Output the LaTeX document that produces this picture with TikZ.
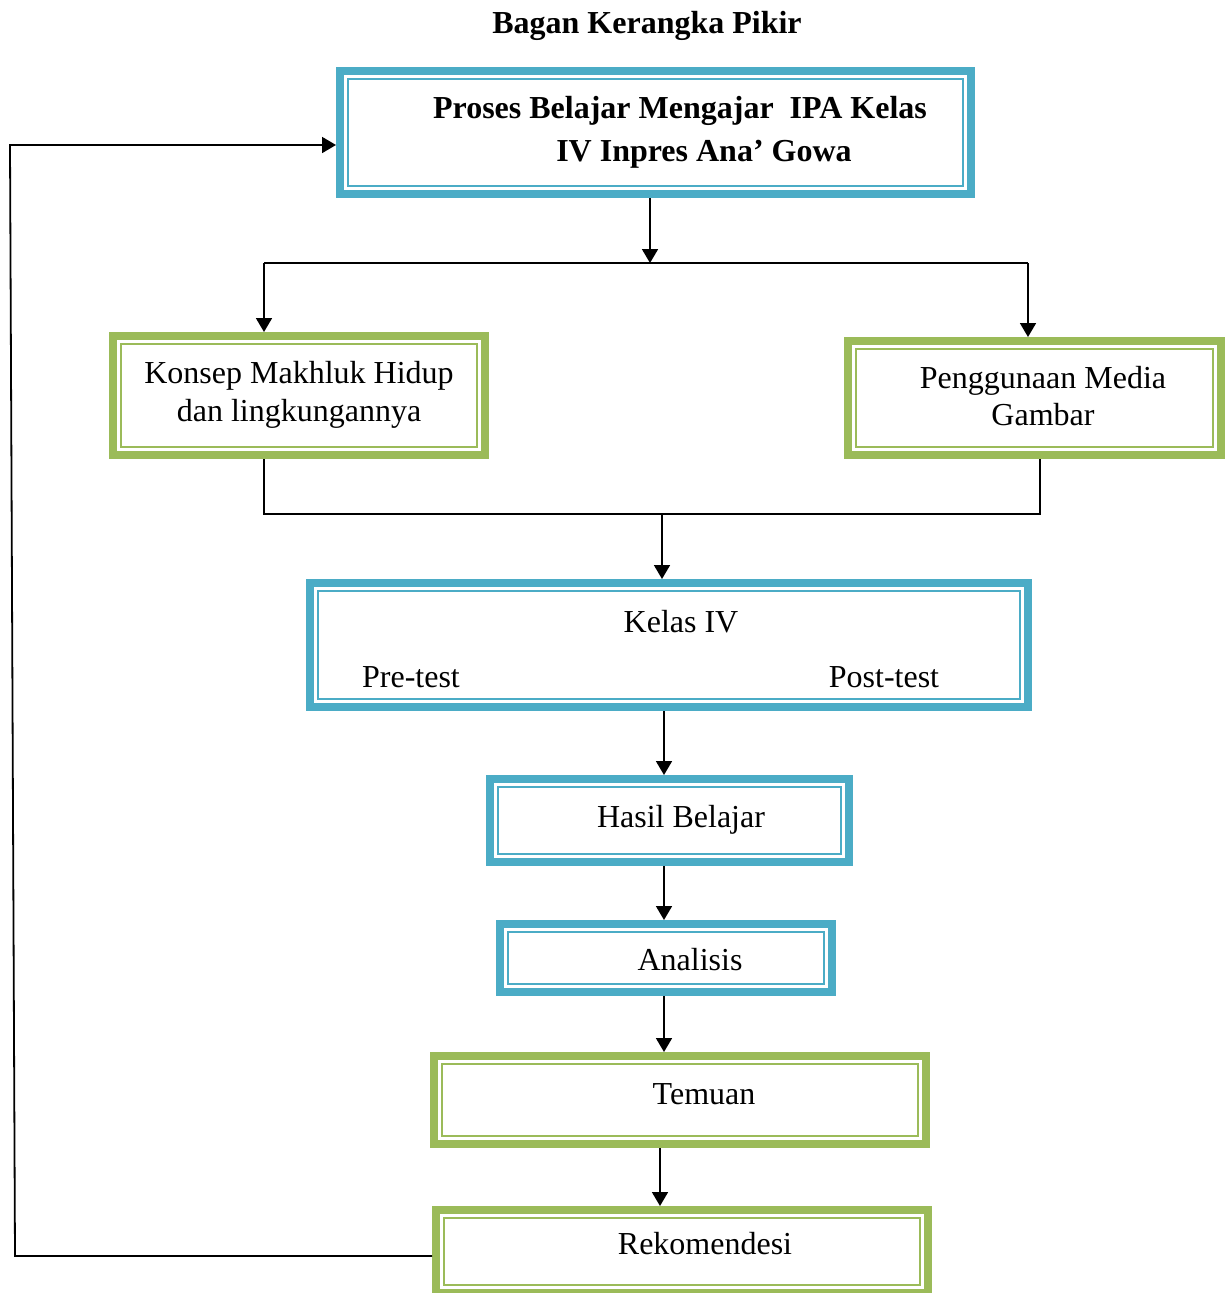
\documentclass[tikz,border=0pt]{standalone}
\usepackage{fontspec}
\setmainfont{Liberation Serif}
\usetikzlibrary{arrows.meta}
\definecolor{bbl}{HTML}{4BACC6}
\definecolor{ggr}{HTML}{9BBB59}
\tikzset{
  framebox/.style={draw=#1, line width=8pt, inner sep=0pt, fill=white},
  innerframe/.style={draw=#1, line width=2pt},
  lbl/.style={font=\fontsize{32}{38}\selectfont, inner sep=0pt, anchor=base},
  blbl/.style={lbl, font=\fontsize{32}{38}\selectfont\bfseries},
  conn/.style={line width=1.8pt, -{Triangle[length=14pt,width=16pt]}},
  plain/.style={line width=1.8pt},
}
\begin{document}
\begin{tikzpicture}[x=1pt,y=-1pt]
\useasboundingbox (0,0) rectangle (1225,1293);
\node[blbl] (title) at (647,33) {Bagan Kerangka Pikir};

\node[framebox=bbl, minimum width=631pt, minimum height=123pt] (top) at (655.5,132.5) {};
\node[framebox=ggr, minimum width=372pt, minimum height=119pt] (konsep) at (299,395.5) {};
\node[framebox=ggr, minimum width=373pt, minimum height=114pt] (media) at (1034.5,398) {};
\node[framebox=bbl, minimum width=718pt, minimum height=124pt] (kelas) at (669,645) {};
\node[framebox=bbl, minimum width=359pt, minimum height=83pt] (hasil) at (669.5,820.5) {};
\node[framebox=bbl, minimum width=332pt, minimum height=68pt] (analisis) at (666,958) {};
\node[framebox=ggr, minimum width=492pt, minimum height=88pt] (temuan) at (680,1100) {};
\node[framebox=ggr, minimum width=492pt, minimum height=83pt] (rekom) at (682,1251.5) {};

\foreach \n/\c in {top/bbl, konsep/ggr, media/ggr, kelas/bbl, hasil/bbl, analisis/bbl, temuan/ggr, rekom/ggr}
  \draw[innerframe=\c] ([shift={(12,12)}]\n.north west) rectangle ([shift={(-12,-12)}]\n.south east);

\node[blbl] (t1) at (680,118) {Proses Belajar Mengajar\ \ IPA Kelas};
\node[blbl] (t2) at (704,161) {IV Inpres Ana’ Gowa};
\node[lbl] (k1) at (299,383) {Konsep Makhluk Hidup};
\node[lbl] (k2) at (299,421) {dan lingkungannya};
\node[lbl] (m1) at (1043,388) {Penggunaan Media};
\node[lbl] (m2) at (1043,425) {Gambar};
\node[lbl] (kl) at (681,632) {Kelas IV};
\node[lbl] (pre) at (411,687) {Pre-test};
\node[lbl] (post) at (884,687) {Post-test};
\node[lbl] (hb) at (681,827) {Hasil Belajar};
\node[lbl] (an) at (690,970) {Analisis};
\node[lbl] (tm) at (704,1104) {Temuan};
\node[lbl] (rk) at (705,1254) {Rekomendesi};

\coordinate (s1) at (650,263);
\coordinate (sl) at (264,263);
\coordinate (sr) at (1028,263);
\draw[conn] (top.south -| s1) -- (s1);
\draw[plain] (sl) -- (sr);
\draw[conn] (sl) -- (sl |- konsep.north);
\draw[conn] (sr) -- (sr |- media.north);

\coordinate (jl) at (264,514);
\coordinate (jr) at (1040,514);
\coordinate (jm) at (662,514);
\draw[plain] (jl |- konsep.south) -- (jl) -- (jr) -- (jr |- media.south);
\draw[conn] (jm) -- (jm |- kelas.north);

\coordinate (c1) at (664,0);
\draw[conn] (c1 |- kelas.south) -- (c1 |- hasil.north);
\draw[conn] (c1 |- hasil.south) -- (c1 |- analisis.north);
\draw[conn] (c1 |- analisis.south) -- (c1 |- temuan.north);
\coordinate (c2) at (660,0);
\draw[conn] (c2 |- temuan.south) -- (c2 |- rekom.north);

\coordinate (fb1) at (15,1256);
\coordinate (fb2) at (10,145);
\draw[conn] (rekom.west |- fb1) -- (fb1) -- (fb2) -- (fb2 -| top.west);
\end{tikzpicture}
\end{document}
